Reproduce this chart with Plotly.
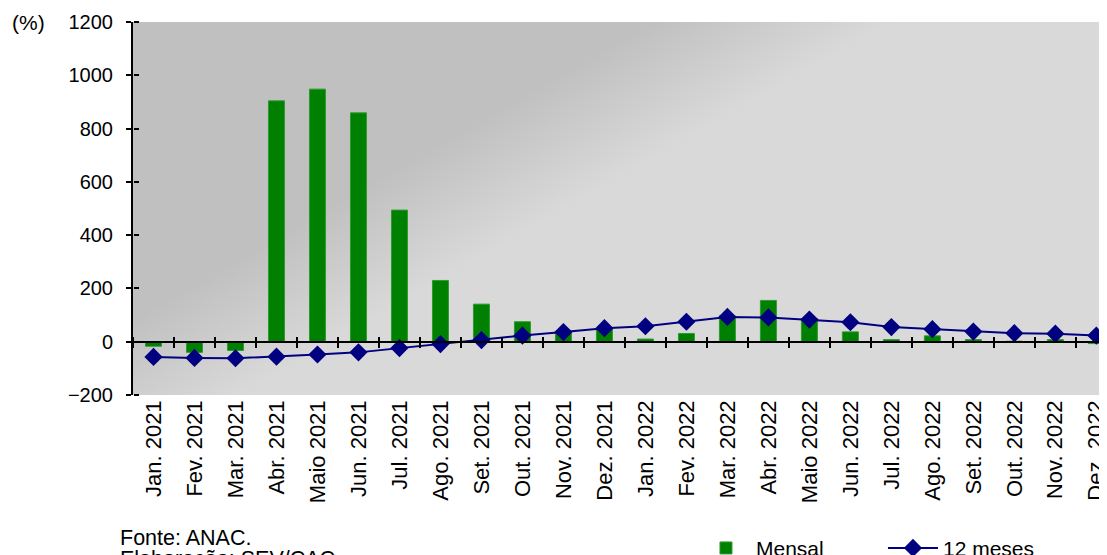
import base64
import plotly.graph_objects as go

months = ["Jan. 2021", "Fev. 2021", "Mar. 2021", "Abr. 2021", "Maio 2021", "Jun. 2021",
          "Jul. 2021", "Ago. 2021", "Set. 2021", "Out. 2021", "Nov. 2021", "Dez. 2021",
          "Jan. 2022", "Fev. 2022", "Mar. 2022", "Abr. 2022", "Maio 2022", "Jun. 2022",
          "Jul. 2022", "Ago. 2022", "Set. 2022", "Out. 2022", "Nov. 2022", "Dez. 2022"]
mensal = [-17, -40, -33, 904, 948, 859, 494, 230, 141, 75, 34, 51,
          10, 31, 97, 155, 87, 37, 8, 22, 8, 2, 8, -7]
doze_meses = [-57, -61, -62, -56, -48, -40, -24, -9, 6, 23, 36, 51,
              58, 75, 93, 91, 83, 73, 55, 47, 38, 32, 30, 23]
y_ticks = [-200, 0, 200, 400, 600, 800, 1000, 1200]

FONT = "Liberation Sans, Arial, sans-serif"

svg = ("<svg xmlns='http://www.w3.org/2000/svg' width='974' height='373' viewBox='0 0 974 373' "
       "preserveAspectRatio='none'><defs><linearGradient id='g' gradientUnits='userSpaceOnUse' "
       "x1='128' y1='224' x2='187' y2='327'><stop offset='0' stop-color='#c0c0c0'/>"
       "<stop offset='1' stop-color='#d9d9d9'/></linearGradient></defs>"
       "<rect width='974' height='373' fill='url(#g)'/></svg>")
bg_src = "data:image/svg+xml;base64," + base64.b64encode(svg.encode()).decode()

fig = go.Figure()
fig.add_trace(go.Bar(x=months, y=mensal, name="Mensal", marker=dict(color="#008000",
                     line=dict(color="#2f9a2f", width=1)), width=0.39))
fig.add_trace(go.Scatter(x=months, y=doze_meses, name="12 meses", mode="lines+markers",
                         line=dict(color="#000080", width=2),
                         marker=dict(symbol="diamond", size=14, color="#000080")))
# helper traces for the overlay axes (zero line ticks, crossing y ticks)
for xa, ya in (("x2", "y"), ("x3", "y"), ("x", "y2")):
    fig.add_trace(go.Scatter(x=months, y=[None] * len(months), xaxis=xa, yaxis=ya,
                             showlegend=False, hoverinfo="skip", mode="lines"))

xr = [-0.5, 23.26]
zero_pos = 200 / 1400
# the page body adds an 8 px offset, so the figure is 8 px smaller and shifted
fig.update_layout(
    width=1099, height=547,
    margin=dict(l=125, r=0, t=14, b=160, autoexpand=False),
    paper_bgcolor="white", plot_bgcolor="#d0d0d0",
    font=dict(family=FONT, color="black", size=20),
    showlegend=True,
    legend=dict(orientation="h", x=0.578, y=-0.356, xanchor="left", yanchor="top",
                font=dict(size=21), bgcolor="rgba(0,0,0,0)", itemwidth=50,
                entrywidth=122, entrywidthmode="pixels"),
    xaxis=dict(type="category", categoryorder="array", categoryarray=months, range=xr,
               tickangle=-90, tickfont=dict(size=22), showline=False, ticks="",
               showgrid=False, zeroline=False),
    xaxis2=dict(type="category", categoryorder="array", categoryarray=months,
                overlaying="x", matches="x", anchor="free", position=zero_pos, side="bottom",
                showticklabels=False, ticks="outside", tickson="boundaries", ticklen=5,
                tickwidth=2, tickcolor="black", showline=True, linecolor="black", linewidth=2,
                showgrid=False, zeroline=False),
    xaxis3=dict(type="category", categoryorder="array", categoryarray=months,
                overlaying="x", matches="x", anchor="free", position=zero_pos, side="top",
                showticklabels=False, ticks="outside", tickson="boundaries", ticklen=5,
                tickwidth=2, tickcolor="black", showline=False, showgrid=False, zeroline=False),
    yaxis=dict(range=[-200, 1200], tickvals=y_ticks, showgrid=False, zeroline=False,
               showline=True, linecolor="black", linewidth=2, ticks="outside", ticklen=5,
               tickwidth=2, tickcolor="black", tickfont=dict(size=20), ticklabelstandoff=9),
    yaxis2=dict(overlaying="y", matches="y", anchor="free", position=0, side="right",
                tickvals=y_ticks, showticklabels=False, ticks="outside", ticklen=5,
                tickwidth=2, tickcolor="black", showline=False, showgrid=False, zeroline=False),
    images=[dict(source=bg_src, xref="paper", yref="paper", x=0, y=1, sizex=1, sizey=1,
                 xanchor="left", yanchor="top", sizing="stretch", layer="below")],
    annotations=[
        dict(text="(%)", xref="paper", yref="paper", x=-0.1263, y=1.0, xanchor="left",
             yanchor="middle", showarrow=False, font=dict(size=21)),
        dict(text="Fonte: ANAC.", xref="paper", yref="paper",
             x=-0.0155, y=-0.345, xanchor="left", yanchor="top", align="left",
             showarrow=False, font=dict(size=21.5)),
        dict(text="Elaboração: SEV/CAC", xref="paper", yref="paper",
             x=-0.0155, y=-0.402, xanchor="left", yanchor="top", align="left",
             showarrow=False, font=dict(size=21.5)),
    ],
)

fig.write_html("out.html", post_script="document.body.style.overflow='hidden';")
